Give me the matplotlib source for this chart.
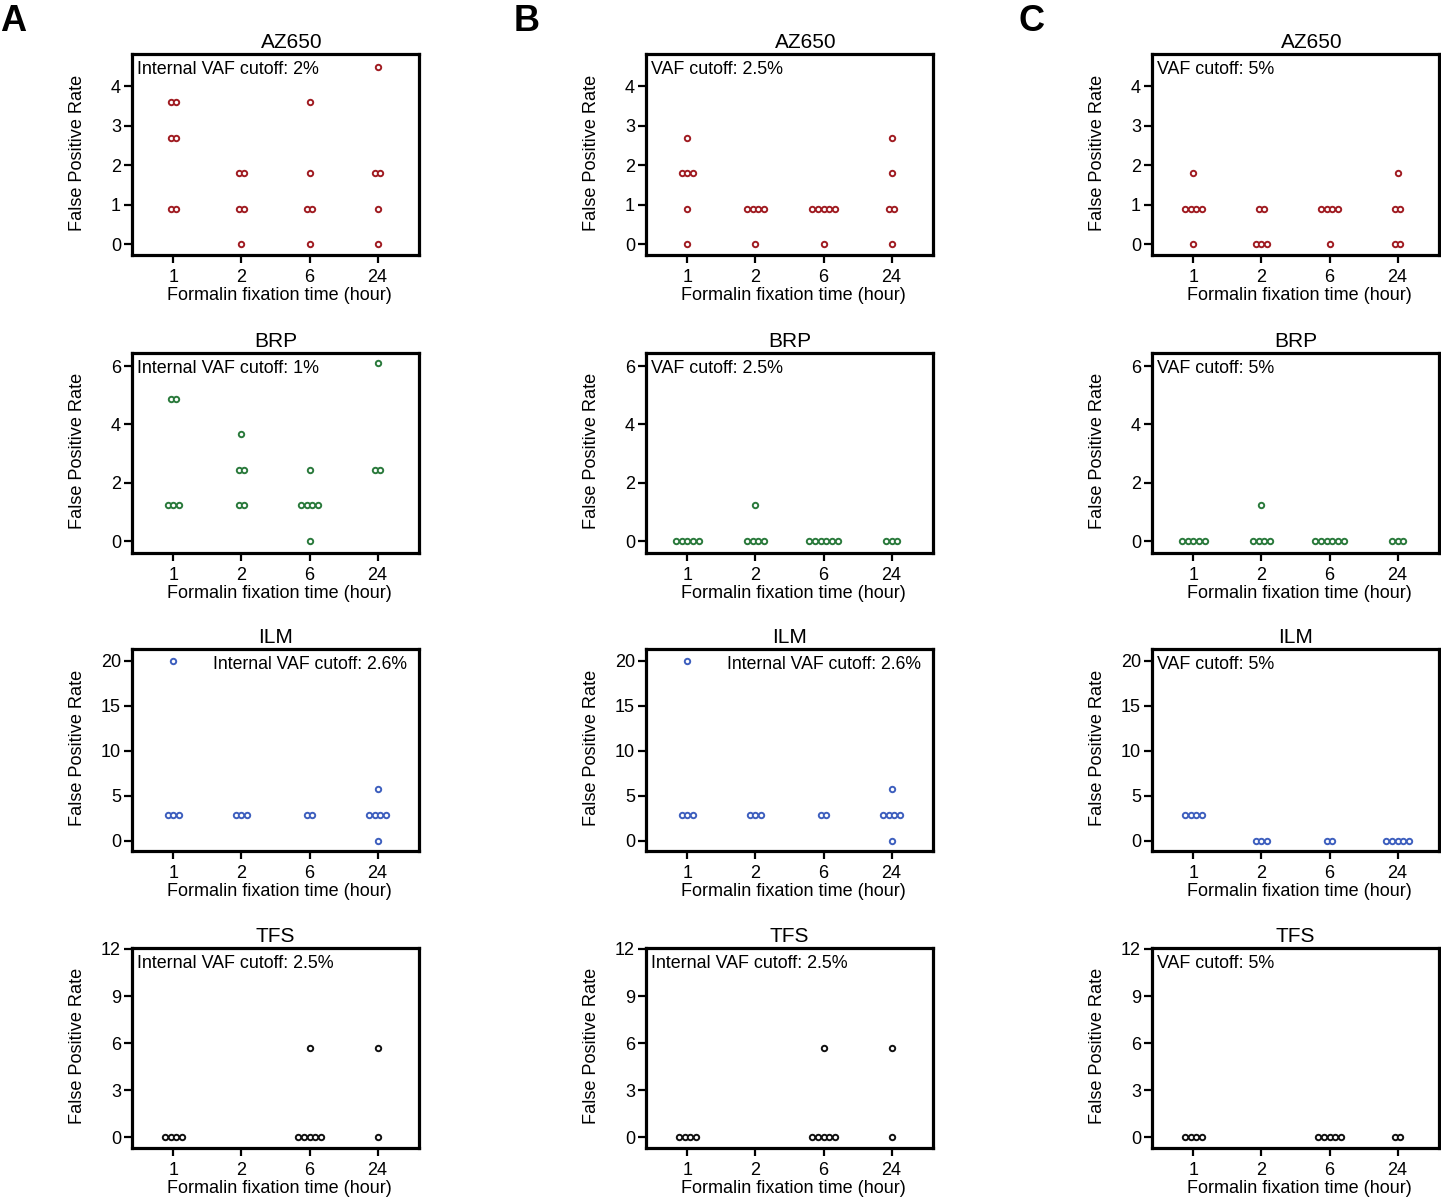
import matplotlib
matplotlib.use("Agg")
import matplotlib.pyplot as plt
from collections import Counter

plt.rcParams['font.family'] = ['Liberation Sans', 'DejaVu Sans']

# ---------------- data ----------------
times = ["1", "2", "6", "24"]
assays = ["AZ650", "BRP", "ILM", "TFS"]
colors = {"AZ650": "#a01c22", "BRP": "#2a7a3c", "ILM": "#3e5fbe", "TFS": "#111111"}

# Column A
az650_A = [[3.6, 3.6, 2.7, 2.7, 0.9, 0.9], [1.8, 1.8, 0.9, 0.9, 0.0], [3.6, 1.8, 0.9, 0.9, 0.0], [4.5, 1.8, 1.8, 0.9, 0.0]]
brp_A = [[4.88, 4.88, 1.22, 1.22, 1.22], [3.66, 2.44, 2.44, 1.22, 1.22], [2.44, 1.22, 1.22, 1.22, 1.22, 0.0], [6.1, 2.44, 2.44]]
ilm_A = [[20.0, 2.86, 2.86, 2.86], [2.86, 2.86, 2.86], [2.86, 2.86], [5.71, 2.86, 2.86, 2.86, 2.86, 0.0]]
tfs_A = [[0, 0, 0, 0], [], [5.71, 0, 0, 0, 0, 0], [5.71, 0]]

# Column B
az650_B = [[2.7, 1.8, 1.8, 1.8, 0.9, 0.0], [0.9, 0.9, 0.9, 0.9, 0.0], [0.9, 0.9, 0.9, 0.9, 0.9, 0.0], [2.7, 1.8, 0.9, 0.9, 0.0]]
brp_B = [[0, 0, 0, 0, 0], [1.22, 0, 0, 0, 0], [0, 0, 0, 0, 0, 0], [0, 0, 0]]
ilm_B = [[20.0, 2.86, 2.86, 2.86], [2.86, 2.86, 2.86], [2.86, 2.86], [5.71, 2.86, 2.86, 2.86, 2.86, 0.0]]
tfs_B = [[0, 0, 0, 0], [], [5.71, 0, 0, 0, 0, 0], [5.71, 0]]

# Column C
az650_C = [[1.8, 0.9, 0.9, 0.9, 0.9, 0.0], [0.9, 0.9, 0.0, 0.0, 0.0], [0.9, 0.9, 0.9, 0.9, 0.0], [1.8, 0.9, 0.9, 0.0, 0.0]]
brp_C = [[0, 0, 0, 0, 0], [1.22, 0, 0, 0, 0], [0, 0, 0, 0, 0, 0], [0, 0, 0]]
ilm_C = [[2.86, 2.86, 2.86, 2.86], [0, 0, 0], [0, 0], [0, 0, 0, 0, 0]]
tfs_C = [[0, 0, 0, 0], [], [0, 0, 0, 0, 0], [0, 0]]

cutoffs_A = ["Internal VAF cutoff: 2%", "Internal VAF cutoff: 1%", "Internal VAF cutoff: 2.6%", "Internal VAF cutoff: 2.5%"]
cutoffs_B = ["VAF cutoff: 2.5%", "VAF cutoff: 2.5%", "Internal VAF cutoff: 2.6%", "Internal VAF cutoff: 2.5%"]
cutoffs_C = ["VAF cutoff: 5%", "VAF cutoff: 5%", "VAF cutoff: 5%", "VAF cutoff: 5%"]

yticks = {"AZ650": [0, 1, 2, 3, 4], "BRP": [0, 2, 4, 6], "ILM": [0, 5, 10, 15, 20], "TFS": [0, 3, 6, 9, 12]}
ylims = {"AZ650": (-0.27, 4.82), "BRP": (-0.41, 6.45), "ILM": (-1.15, 21.3), "TFS": (-0.68, 12.06)}
panel_letters = ["A", "B", "C"]

columns = [
    [az650_A, brp_A, ilm_A, tfs_A],
    [az650_B, brp_B, ilm_B, tfs_B],
    [az650_C, brp_C, ilm_C, tfs_C],
]
cutoffs = [cutoffs_A, cutoffs_B, cutoffs_C]

# ---------------- layout ----------------
W, H = 1441, 1198
fig = plt.figure(figsize=(W / 100, H / 100), dpi=100)

col_left = [132, 646, 1152]
col_width = 287
row_top = [54, 353, 649, 948]
row_bottom = [255, 553, 851, 1148]
letter_x = [0, 514, 1019]

SPACING = 0.085


def swarm(vals):
    xs, ys = [], []
    counts = Counter(vals)
    for v, n in counts.items():
        for k in range(n):
            xs.append((k - (n - 1) / 2) * SPACING)
            ys.append(v)
    return xs, ys


for c in range(3):
    for r in range(4):
        assay = assays[r]
        x0 = col_left[c]
        ax = fig.add_axes([x0 / W, 1 - row_bottom[r] / H, col_width / W, (row_bottom[r] - row_top[r]) / H])
        data = columns[c][r]
        for i, vals in enumerate(data):
            if not vals:
                continue
            dx, ys = swarm(vals)
            ax.plot([i + 1 + d for d in dx], ys, linestyle='none', marker='o', markersize=3.9,
                    markerfacecolor='white', markeredgecolor=colors[assay], markeredgewidth=1.4)
        ax.set_xlim(0.39, 4.61)
        ax.set_ylim(*ylims[assay])
        ax.set_xticks([1, 2, 3, 4])
        ax.set_xticklabels(times)
        ax.set_yticks(yticks[assay])
        for s in ax.spines.values():
            s.set_linewidth(2.3)
        ax.tick_params(direction='out', length=6, width=1.6, labelsize=13, pad=2)
        ax.tick_params(axis='x', pad=4)
        ax.set_xlabel("Formalin fixation time (hour)", fontsize=13, labelpad=1)
        ax.xaxis.label.set_x(0.515)
        ax.set_ylabel("False Positive Rate", fontsize=13.1)
        ax.yaxis.set_label_coords(-0.16, 0.51)
        tx = 0.555 if assay == "AZ650" else 0.5
        ax.set_title(assay, fontsize=15, pad=4, x=tx)
        label = cutoffs[c][r]
        if assay == "ILM" and c < 2:
            ax.text(0.958, 0.9, label, transform=ax.transAxes, ha='right', va='baseline', fontsize=12.7)
        else:
            ax.text(0.018, 0.9, label, transform=ax.transAxes, ha='left', va='baseline', fontsize=12.9)

for c in range(3):
    fig.text(letter_x[c] / W, 1 - 4 / H, panel_letters[c], fontsize=26, fontweight='bold', ha='left', va='top')

fig.savefig("out.png", dpi=100, facecolor='white')
